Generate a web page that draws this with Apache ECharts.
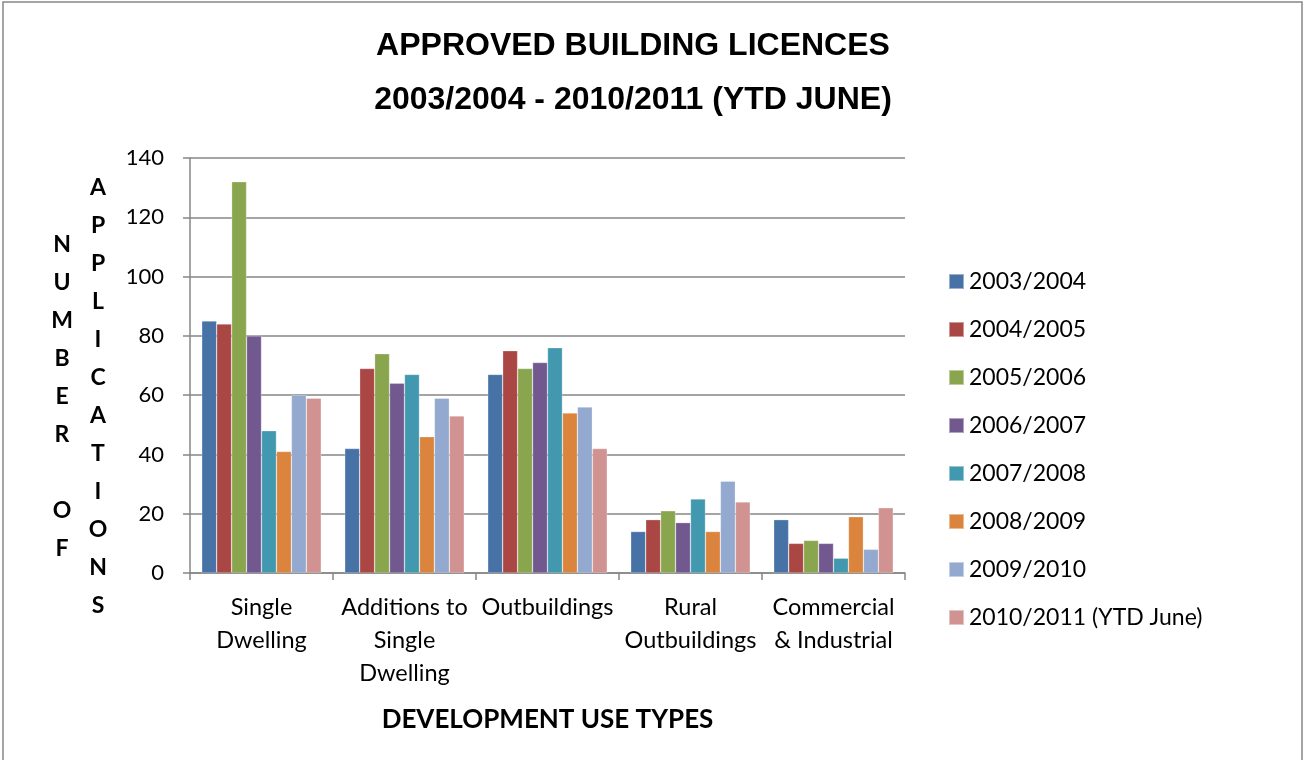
<!DOCTYPE html>
<html>
<head>
<meta charset="utf-8">
<script src="https://cdn.jsdelivr.net/npm/echarts@6/dist/echarts.min.js"></script>
<style>
html,body{margin:0;padding:0;background:#fff;}
#chart{width:1305px;height:760px;}
</style>
</head>
<body>
<div id="chart"></div>
<script>
const categories = ["Single\nDwelling", "Additions to\nSingle\nDwelling", "Outbuildings", "Rural\nOutbuildings", "Commercial\n& Industrial"];
const seriesNames = ["2003/2004", "2004/2005", "2005/2006", "2006/2007", "2007/2008", "2008/2009", "2009/2010", "2010/2011 (YTD June)"];
const s2003 = [85, 42, 67, 14, 18];
const s2004 = [84, 69, 75, 18, 10];
const s2005 = [132, 74, 69, 21, 11];
const s2006 = [80, 64, 71, 17, 10];
const s2007 = [48, 67, 76, 25, 5];
const s2008 = [41, 46, 54, 14, 19];
const s2009 = [60, 59, 56, 31, 8];
const s2010 = [59, 53, 42, 24, 22];
const yTicks = [0, 20, 40, 60, 80, 100, 120, 140];
const colors = ["#4672A6", "#AA4644", "#89A54E", "#71588F", "#4198AF", "#DB843D", "#93A9CF", "#D19392"];

const allData = [s2003, s2004, s2005, s2006, s2007, s2008, s2009, s2010];
const chart = echarts.init(document.getElementById('chart'), null, {renderer: 'canvas'});
const gridCol = '#868686';
const font = 'Lato, "Noto Sans", sans-serif';

const option = {
  animation: false,
  color: colors,
  grid: {left: 190, top: 158, right: 400, bottom: 187, containLabel: false},
  legend: {
    orient: 'vertical',
    left: 943,
    top: 265,
    itemWidth: 15,
    itemHeight: 15,
    itemGap: 25,
    icon: 'rect',
    textStyle: {fontFamily: font, fontSize: 23, color: '#000', lineHeight: 22},
    data: seriesNames
  },
  xAxis: {
    type: 'category',
    data: categories,
    axisLine: {lineStyle: {color: gridCol, width: 1.5}},
    axisTick: {show: true, length: 7, lineStyle: {color: gridCol, width: 1.5}},
    axisLabel: {fontFamily: font, fontSize: 23.5, color: '#000', lineHeight: 33, margin: 18, interval: 0},
    name: 'DEVELOPMENT USE TYPES',
    nameLocation: 'middle',
    nameGap: 134,
    nameTextStyle: {fontFamily: font, fontSize: 26, fontWeight: 'bold', color: '#000'}
  },
  yAxis: {
    type: 'value',
    min: yTicks[0],
    max: yTicks[yTicks.length - 1],
    interval: 20,
    axisLine: {show: true, lineStyle: {color: gridCol, width: 1.5}},
    axisTick: {show: true, length: 7, lineStyle: {color: gridCol, width: 1.5}},
    axisLabel: {fontFamily: font, fontSize: 22, color: '#000', margin: 26},
    splitLine: {show: true, lineStyle: {color: gridCol, width: 1.5}}
  },
  series: seriesNames.map((n, i) => ({
    name: n,
    type: 'bar',
    data: allData[i],
    barGap: '0%',
    barCategoryGap: '16.4%',
    itemStyle: {color: colors[i], borderColor: 'rgba(255,255,255,0.45)', borderWidth: 0.6}
  })),
  graphic: [
    {
      type: 'rect',
      shape: {x: 3, y: 2, width: 1299, height: 800},
      style: {fill: 'none', stroke: '#868686', lineWidth: 1.5},
      silent: true, z: -1
    },
    {
      type: 'text',
      x: 633, y: 19,
      style: {
        text: 'APPROVED BUILDING LICENCES\n2003/2004 - 2010/2011 (YTD JUNE)',
        font: 'bold 32px "Liberation Sans", Arial, sans-serif',
        fill: '#000', textAlign: 'center', textVerticalAlign: 'top', lineHeight: 54
      }
    },
    {
      type: 'text',
      x: 62, y: 226,
      style: {
        text: 'N\nU\nM\nB\nE\nR\n\nO\nF',
        font: 'bold 23px Lato, "Noto Sans", sans-serif',
        fill: '#000', textAlign: 'center', textVerticalAlign: 'top', lineHeight: 38
      }
    },
    {
      type: 'text',
      x: 98, y: 169,
      style: {
        text: 'A\nP\nP\nL\nI\nC\nA\nT\nI\nO\nN\nS',
        font: 'bold 23px Lato, "Noto Sans", sans-serif',
        fill: '#000', textAlign: 'center', textVerticalAlign: 'top', lineHeight: 38
      }
    }
  ]
};
chart.setOption(option);
</script>
</body>
</html>
